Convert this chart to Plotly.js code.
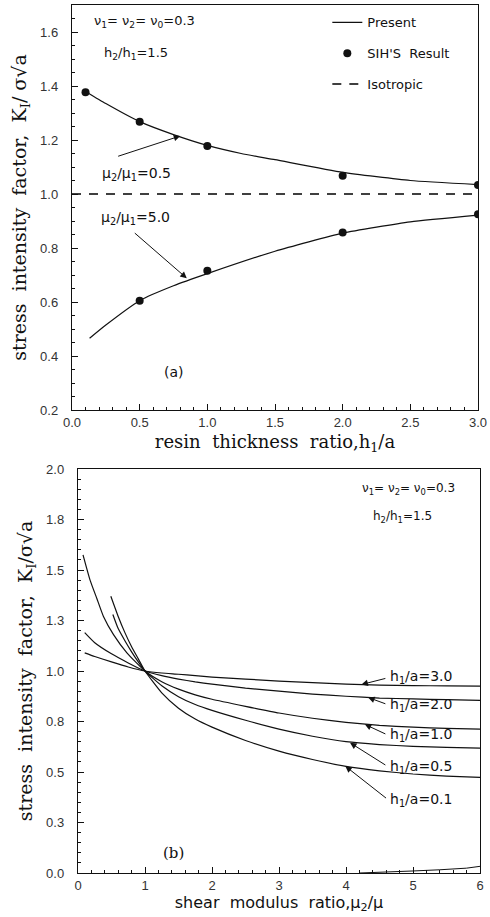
<!DOCTYPE html>
<html>
<head>
<meta charset="utf-8">
<script src="https://cdn.plot.ly/plotly-3.0.1.min.js"></script>
<style>
  html, body { margin: 0; padding: 0; background: #fff; }
  #chart { width: 490px; height: 917px; }
</style>
</head>
<body>
<div id="chart"></div>
<script>
// ---------- (a) K_I / sigma*sqrt(a) versus resin thickness ratio h1/a ----------
const thicknessSoft = [0.1, 0.25, 0.5, 0.75, 1.0, 1.25, 1.5, 2.0, 2.5, 3.0];
const presentSoft   = [1.38, 1.335, 1.268, 1.22, 1.18, 1.15, 1.127, 1.08, 1.05, 1.035];   // mu2/mu1 = 0.5
const thicknessStiff = [0.13, 0.25, 0.5, 0.75, 1.0, 1.5, 2.0, 2.5, 3.0];
const presentStiff   = [0.466, 0.515, 0.605, 0.66, 0.705, 0.788, 0.855, 0.897, 0.922];     // mu2/mu1 = 5.0

const sihThicknessSoft  = [0.1, 0.5, 1.0, 2.0, 3.0];
const sihSoft           = [1.377, 1.268, 1.178, 1.068, 1.033];
const sihThicknessStiff = [0.5, 1.0, 2.0, 3.0];
const sihStiff          = [0.605, 0.716, 0.857, 0.925];

const isotropicX = [0, 3];
const isotropicY = [1.0, 1.0];

const thicknessTicks = [0, 0.5, 1.0, 1.5, 2.0, 2.5, 3.0];

// ---------- (b) K_I / sigma*sqrt(a) versus shear modulus ratio mu2/mu ----------
const ratioRight = [1, 1.25, 1.5, 1.75, 2, 2.5, 3, 3.5, 4, 4.5, 5, 5.5, 6];

const ratioLeft30 = [0.1, 0.25, 0.5, 0.75];
const kLeft30     = [1.09, 1.072, 1.045, 1.02];
const kRight30    = [1.0, 0.99, 0.984, 0.977, 0.97, 0.96, 0.95, 0.942, 0.935, 0.93, 0.928, 0.926, 0.925];

const ratioLeft20 = [0.1, 0.25, 0.5, 0.75];
const kLeft20     = [1.19, 1.14, 1.085, 1.04];
const kRight20    = [1.0, 0.977, 0.96, 0.946, 0.935, 0.915, 0.90, 0.886, 0.875, 0.866, 0.862, 0.858, 0.855];

const ratioLeft10 = [0.075, 0.18, 0.28, 0.38, 0.53, 0.73];
const kLeft10     = [1.575, 1.45, 1.36, 1.27, 1.18, 1.09];
const kRight10    = [1.0, 0.947, 0.91, 0.882, 0.86, 0.825, 0.792, 0.766, 0.746, 0.731, 0.722, 0.716, 0.712];

const ratioLeft05 = [0.52, 0.6, 0.7, 0.8, 0.9];
const kLeft05     = [1.28, 1.21, 1.15, 1.095, 1.045];
const kRight05    = [1.0, 0.927, 0.873, 0.834, 0.805, 0.756, 0.712, 0.677, 0.65, 0.636, 0.627, 0.622, 0.618];

const ratioLeft01 = [0.49, 0.6, 0.7, 0.8, 0.9];
const kLeft01     = [1.37, 1.27, 1.19, 1.12, 1.06];
const kRight01    = [1.0, 0.892, 0.816, 0.762, 0.722, 0.656, 0.603, 0.562, 0.528, 0.506, 0.49, 0.48, 0.473];

const baseRatio = [4.2, 4.6, 5.0, 5.4, 5.8, 6.0];
const baseK     = [0.0, 0.004, 0.01, 0.016, 0.024, 0.033];

const modulusTicks = [0, 1, 2, 3, 4, 5, 6];
const modulusTickText = ['0', '1', '2', '3', '4', '5', '6'];
const kTicksB = [0, 0.25, 0.5, 0.75, 1.0, 1.25, 1.5, 1.75, 2.0];
const kTickTextB = ['0.0', '0.3', '0.5', '0.8', '1.0', '1.3', '1.5', '1.8', '2.0'];

// ---------- styling ----------
const INK = '#111';
const serif = 'DejaVu Serif, serif';
const sans = 'DejaVu Sans, sans-serif';
const tickFont = { family: 'Liberation Sans, sans-serif', size: 13, color: '#333' };
const curve = { color: INK, width: 1.2, shape: 'spline', smoothing: 0.5 };

const traces = [
  { x: thicknessSoft, y: presentSoft, mode: 'lines', line: curve, name: 'Present',
    legendgroup: 'present', xaxis: 'x', yaxis: 'y' },
  { x: thicknessStiff, y: presentStiff, mode: 'lines', line: curve, name: 'Present',
    legendgroup: 'present', showlegend: false, xaxis: 'x', yaxis: 'y' },
  { x: sihThicknessSoft, y: sihSoft, mode: 'markers', marker: { color: INK, size: 8 },
    name: "SIH'S  Result", legendgroup: 'sih', xaxis: 'x', yaxis: 'y' },
  { x: sihThicknessStiff, y: sihStiff, mode: 'markers', marker: { color: INK, size: 8 },
    name: "SIH'S  Result", legendgroup: 'sih', showlegend: false, xaxis: 'x', yaxis: 'y' },
  { x: isotropicX, y: isotropicY, mode: 'lines', line: { color: '#000', width: 1.5, dash: '9px,8px' },
    name: 'Isotropic', legendgroup: 'iso', xaxis: 'x', yaxis: 'y' }
];

const familyB = [
  [ratioLeft30, kLeft30, kRight30],
  [ratioLeft20, kLeft20, kRight20],
  [ratioLeft10, kLeft10, kRight10],
  [ratioLeft05, kLeft05, kRight05],
  [ratioLeft01, kLeft01, kRight01]
];
familyB.forEach(([xl, yl, yr]) => {
  traces.push({ x: xl.concat(ratioRight), y: yl.concat(yr), mode: 'lines',
    line: curve, showlegend: false, xaxis: 'x2', yaxis: 'y2' });
});
traces.push({ x: baseRatio, y: baseK, mode: 'lines', line: { color: INK, width: 1 },
  showlegend: false, xaxis: 'x2', yaxis: 'y2' });

function axisBase() {
  return {
    showgrid: false, zeroline: false, showline: true, linecolor: INK, linewidth: 1.2,
    mirror: true, ticks: 'inside', ticklen: 6, tickcolor: INK, tickwidth: 1,
    tickfont: tickFont, automargin: false
  };
}

const arrow = (x, y, ax, ay, xr, yr) => ({
  x: x, y: y, ax: ax, ay: ay, xref: xr, yref: yr, axref: xr, ayref: yr,
  text: '', showarrow: true, arrowhead: 2, arrowsize: 1.3, arrowwidth: 1, arrowcolor: INK
});
const label = (x, y, text, xr, yr, anchor, size, fam) => ({
  x: x, y: y, xref: xr, yref: yr, text: text, showarrow: false,
  xanchor: anchor || 'left', yanchor: 'middle',
  font: { family: fam || sans, size: size || 12, color: INK }
});

const annotations = [
  label(0.145, 1.638, 'ν<sub>1</sub>= ν<sub>2</sub>= ν<sub>0</sub>=0.3', 'x', 'y', 'left', 13),
  label(0.22, 1.521, 'h<sub>2</sub>/h<sub>1</sub>=1.5', 'x', 'y', 'left', 13),
  label(0.21, 1.074, 'μ<sub>2</sub>/μ<sub>1</sub>=0.5', 'x', 'y', 'left', 14),
  arrow(0.80, 1.215, 0.33, 1.138, 'x', 'y'),
  label(0.20, 0.91, 'μ<sub>2</sub>/μ<sub>1</sub>=5.0', 'x', 'y', 'left', 14),
  arrow(0.848, 0.688, 0.453, 0.86, 'x', 'y'),
  label(0.75, 0.342, '(a)', 'x', 'y', 'center', 14),

  label(5.66, 1.9, 'ν<sub>1</sub>= ν<sub>2</sub>= ν<sub>0</sub>=0.3', 'x2', 'y2', 'right', 12),
  label(4.85, 1.76, 'h<sub>2</sub>/h<sub>1</sub>=1.5', 'x2', 'y2', 'center', 12),
  label(4.63, 0.97, 'h<sub>1</sub>/a=3.0', 'x2', 'y2', 'left', 14),
  arrow(4.23, 0.933, 4.61, 0.965, 'x2', 'y2'),
  label(4.63, 0.83, 'h<sub>1</sub>/a=2.0', 'x2', 'y2', 'left', 14),
  arrow(4.33, 0.869, 4.61, 0.835, 'x2', 'y2'),
  label(4.63, 0.682, 'h<sub>1</sub>/a=1.0', 'x2', 'y2', 'left', 14),
  arrow(4.28, 0.736, 4.61, 0.685, 'x2', 'y2'),
  label(4.63, 0.525, 'h<sub>1</sub>/a=0.5', 'x2', 'y2', 'left', 14),
  arrow(4.06, 0.645, 4.61, 0.53, 'x2', 'y2'),
  label(4.63, 0.36, 'h<sub>1</sub>/a=0.1', 'x2', 'y2', 'left', 14),
  arrow(3.99, 0.529, 4.62, 0.365, 'x2', 'y2'),
  label(1.42, 0.098, '(b)', 'x2', 'y2', 'center', 15, serif)
];

const layout = {
  width: 490, height: 917,
  margin: { l: 0, r: 0, t: 0, b: 0 },
  paper_bgcolor: '#fff', plot_bgcolor: '#fff',
  showlegend: true,
  legend: {
    x: 0.668, y: 0.992, xanchor: 'left', yanchor: 'top',
    bgcolor: 'rgba(0,0,0,0)', borderwidth: 0,
    font: { family: sans, size: 13, color: INK },
    traceorder: 'grouped', tracegroupgap: 11, itemwidth: 30
  },
  xaxis: Object.assign(axisBase(), {
    domain: [72 / 490, 478 / 490], anchor: 'y', range: [0, 3],
    tickvals: thicknessTicks, tickformat: '.1f',
    minor: { dtick: 0.1, ticks: 'inside', ticklen: 3, tickcolor: INK },
    title: { text: 'resin  thickness  ratio,h<sub>1</sub>/a', standoff: 6,
             font: { family: serif, size: 18, color: INK } }
  }),
  yaxis: Object.assign(axisBase(), {
    domain: [1 - 410 / 917, 1 - 5 / 917], anchor: 'x', range: [0.2, 1.7],
    tick0: 0.2, dtick: 0.2, tickformat: '.1f', ticklabelstandoff: 10,
    minor: { dtick: 0.05, ticks: 'inside', ticklen: 3, tickcolor: INK },
    title: { text: 'stress  intensity  factor,  K<sub>I</sub>/ σ√a', standoff: 8,
             font: { family: serif, size: 19, color: INK } }
  }),
  xaxis2: Object.assign(axisBase(), {
    domain: [78 / 490, 480 / 490], anchor: 'y2', range: [0, 6],
    tickvals: modulusTicks, ticktext: modulusTickText,
    minor: { dtick: 0.2, ticks: 'inside', ticklen: 3, tickcolor: INK },
    title: { text: 'shear  modulus  ratio,μ<sub>2</sub>/μ', standoff: 4,
             font: { family: sans, size: 16, color: INK } }
  }),
  yaxis2: Object.assign(axisBase(), {
    domain: [1 - 873 / 917, 1 - 469 / 917], anchor: 'x2', range: [0, 2],
    tickvals: kTicksB, ticktext: kTickTextB, ticklabelstandoff: 10,
    minor: { dtick: 0.05, ticks: 'inside', ticklen: 3, tickcolor: INK },
    title: { text: 'stress  intensity  factor,  K<sub>I</sub>/σ√a', standoff: 8,
             font: { family: serif, size: 19, color: INK } }
  }),
  annotations: annotations
};

Plotly.newPlot('chart', traces, layout, { staticPlot: true, displayModeBar: false });
</script>
</body>
</html>
